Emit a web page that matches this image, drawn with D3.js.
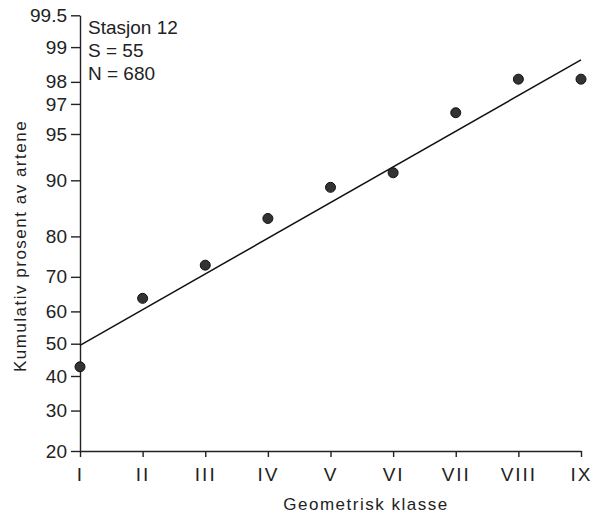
<!DOCTYPE html>
<html lang="no">
<head>
<meta charset="utf-8">
<title>Stasjon 12 - kumulativ prosent</title>
<script src="https://cdn.jsdelivr.net/npm/d3@7"></script>
<style>
  html, body { margin: 0; background: #fff; }
  svg { font-family: "Liberation Sans", Arial, sans-serif; }
  .axis path, .axis line { stroke: #222; stroke-width: 1.4; }
  .axis text { fill: #222; font-size: 19px; }
  .x.axis text { letter-spacing: 2px; }
  .label { fill: #222; font-size: 17px; letter-spacing: 1.5px; }
  .note { fill: #222; font-size: 19px; }
</style>
</head>
<body>
<div id="vis"></div>
<script>
var classes = ["I", "II", "III", "IV", "V", "VI", "VII", "VIII", "IX"];
// kumulativ prosent av artene, lest av figuren
var percent = [42.8, 63.9, 73.1, 83.7, 89.0, 91.0, 96.5, 98.1, 98.1];
// tilpasset rett linje (endepunkter)
var fitClasses = ["I", "IX"];
var fitPercent = [49.5, 98.7];
var yTicks = [20, 30, 40, 50, 60, 70, 80, 90, 95, 97, 98, 99, 99.5];
var notes = ["Stasjon 12", "S = 55", "N = 680"];

var width = 598, height = 517;

// inverse normal (Acklam)
function probit(p) {
    var a = [-3.969683028665376e+01, 2.209460984245205e+02, -2.759285104469687e+02,
             1.383577518672690e+02, -3.066479806614716e+01, 2.506628277459239e+00];
    var b = [-5.447609879822406e+01, 1.615858368580409e+02, -1.556989798598866e+02,
             6.680131188771972e+01, -1.328068155288572e+01];
    var c = [-7.784894002430293e-03, -3.223964580411365e-01, -2.400758277161838e+00,
             -2.549732539343734e+00, 4.374664141464968e+00, 2.938163982698783e+00];
    var d = [7.784695709041462e-03, 3.224671290700398e-01, 2.445134137142996e+00,
             3.754408661907416e+00];
    var q, r;
    if (p < 0.02425) {
        q = Math.sqrt(-2 * Math.log(p));
        return (((((c[0]*q+c[1])*q+c[2])*q+c[3])*q+c[4])*q+c[5]) /
               ((((d[0]*q+d[1])*q+d[2])*q+d[3])*q+1);
    } else if (p > 1 - 0.02425) {
        q = Math.sqrt(-2 * Math.log(1 - p));
        return -(((((c[0]*q+c[1])*q+c[2])*q+c[3])*q+c[4])*q+c[5]) /
                ((((d[0]*q+d[1])*q+d[2])*q+d[3])*q+1);
    }
    q = p - 0.5;
    r = q * q;
    return (((((a[0]*r+a[1])*r+a[2])*r+a[3])*r+a[4])*r+a[5])*q /
           (((((b[0]*r+b[1])*r+b[2])*r+b[3])*r+b[4])*r+1);
}

function z(pct) { return probit(pct / 100); }

var svg = d3.select('#vis')
    .append('svg')
    .attr('width', width)
    .attr('height', height);

var x = d3.scalePoint()
    .domain(classes)
    .range([80, 581]);

var y = d3.scaleLinear()
    .domain([z(20), z(99.5)])
    .range([451, 15.3]);

var xAxis = d3.axisBottom(x)
    .tickSizeInner(6)
    .tickSizeOuter(0)
    .tickPadding(11);

var yAxis = d3.axisLeft(y)
    .tickValues(yTicks.map(z))
    .tickFormat(function(d, i) { return yTicks[i]; })
    .tickSizeInner(9)
    .tickSizeOuter(0)
    .tickPadding(4);

svg.append('g')
    .attr('class', 'x axis')
    .attr('transform', 'translate(0,451)')
    .call(xAxis);

svg.append('g')
    .attr('class', 'y axis')
    .attr('transform', 'translate(80,0)')
    .call(yAxis);

svg.selectAll('.domain').attr('fill', 'none');

// regresjonslinje
var line = d3.line()
    .x(function(d) { return x(d.c); })
    .y(function(d) { return y(z(d.p)); });

svg.append('path')
    .datum(fitClasses.map(function(c, i) { return {c: c, p: fitPercent[i]}; }))
    .attr('fill', 'none')
    .attr('stroke', '#111')
    .attr('stroke-width', 1.5)
    .attr('d', line);

svg.selectAll('.dot')
    .data(classes)
    .enter()
    .append('circle')
    .attr('class', 'dot')
    .attr('cx', function(d) { return x(d); })
    .attr('cy', function(d, i) { return y(z(percent[i])); })
    .attr('r', 5)
    .attr('fill', '#333')
    .attr('stroke', '#111')
    .attr('stroke-width', 1);

svg.selectAll('.note')
    .data(notes)
    .enter()
    .append('text')
    .attr('class', 'note')
    .attr('x', 88)
    .attr('y', function(d, i) { return 34 + i * 23; })
    .text(function(d) { return d; });

svg.append('text')
    .attr('class', 'label')
    .attr('text-anchor', 'middle')
    .attr('x', 366)
    .attr('y', 510)
    .text('Geometrisk klasse');

svg.append('text')
    .attr('class', 'label')
    .attr('text-anchor', 'middle')
    .attr('transform', 'translate(26,246) rotate(-90)')
    .text('Kumulativ prosent av artene');
</script>
</body>
</html>
